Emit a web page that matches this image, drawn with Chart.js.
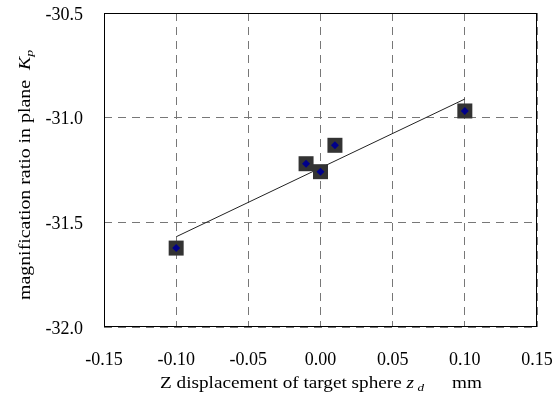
<!DOCTYPE html>
<html>
<head>
<meta charset="utf-8">
<script src="https://cdn.jsdelivr.net/npm/chart.js@4.4.1/dist/chart.umd.min.js"></script>
<style>
html,body{margin:0;padding:0;background:#fff;}
#wrap{width:560px;height:409px;position:relative;}
</style>
</head>
<body>
<div id="wrap"><canvas id="c" width="560" height="409"></canvas></div>
<script>
const displacement = [-0.10, -0.01, 0.00, 0.01, 0.10];
const magnification = [-31.623, -31.22, -31.258, -31.132, -30.968];
const trendX = [-0.10, 0.10];
const trendY = [-31.569, -30.911];
const xTicks = [-0.15, -0.10, -0.05, 0.00, 0.05, 0.10, 0.15];
const yTicks = [-32.0, -31.5, -31.0, -30.5];

const pts = displacement.map((x, i) => ({x: x, y: magnification[i]}));
const trend = trendX.map((x, i) => ({x: x, y: trendY[i]}));
const FONT = "'Liberation Serif', 'Times New Roman', serif";

const titlePlugin = {
  id: 'titles',
  afterDraw(chart) {
    const ctx = chart.ctx;
    ctx.save();
    ctx.fillStyle = '#000';
    ctx.textBaseline = 'alphabetic';
    // x title (fit "Z displacement ... z" into 160..414)
    ctx.font = "16px " + FONT;
    const t1 = 'Z displacement of target sphere ';
    const w1 = ctx.measureText(t1).width;
    ctx.font = "italic 16px " + FONT;
    const wz = ctx.measureText('z').width;
    const sx = (414 - 160) / (w1 + wz);
    ctx.save();
    ctx.translate(160, 388);
    ctx.scale(sx, 1);
    let x = 0;
    ctx.font = "16px " + FONT;
    ctx.fillText(t1, x, 0); x += w1;
    ctx.font = "italic 16px " + FONT;
    ctx.fillText('z', x, 0); x += wz + 3;
    ctx.font = "italic 11px " + FONT;
    ctx.fillText('d', x, 3);
    ctx.restore();
    ctx.save();
    ctx.translate(452, 388);
    ctx.scale(sx, 1);
    ctx.font = "16px " + FONT;
    ctx.fillText('mm', 0, 0);
    ctx.restore();
    // y title, fit into y 300..50
    ctx.font = "16px " + FONT;
    const t2 = 'magnification ratio in plane  ';
    const w2 = ctx.measureText(t2).width;
    ctx.font = "italic 16px " + FONT;
    const wk = ctx.measureText('K').width;
    ctx.font = "italic 11px " + FONT;
    const wp = ctx.measureText('p').width;
    const sy = (300 - 50) / (w2 + wk + wp);
    ctx.translate(30, 300);
    ctx.rotate(-Math.PI / 2);
    ctx.scale(sy, 1);
    x = 0;
    ctx.font = "16px " + FONT;
    ctx.fillText(t2, x, 0); x += w2;
    ctx.font = "italic 16px " + FONT;
    ctx.fillText('K', x, 0); x += wk;
    ctx.font = "italic 11px " + FONT;
    ctx.fillText('p', x, 3);
    ctx.restore();
  }
};

new Chart(document.getElementById('c'), {
  type: 'scatter',
  data: {
    datasets: [
      {
        data: trend, showLine: true, borderColor: '#222', borderWidth: 1,
        pointRadius: 0, order: 3
      },
      {
        data: pts, pointStyle: 'rect', pointRadius: 10.6, backgroundColor: '#333333',
        borderColor: '#333333', borderWidth: 0, order: 2
      },
      {
        data: pts, pointStyle: 'rectRot', pointRadius: 4, backgroundColor: '#00008b',
        borderColor: '#00008b', borderWidth: 0, order: 1
      }
    ]
  },
  options: {
    responsive: false,
    animation: false,
    layout: {padding: {top: 13, right: 23, left: 0, bottom: 0}},
    plugins: {legend: {display: false}, tooltip: {enabled: false}},
    scales: {
      x: {
        type: 'linear', min: -0.15, max: 0.15,
        afterBuildTicks(s) { s.ticks = xTicks.map(v => ({value: v})); },
        afterFit(s) { s.height = 82; s.paddingLeft = 0; s.paddingRight = 0; s.paddingTop = 0; s.paddingBottom = 0; },
        ticks: {
          color: '#000', font: {family: FONT, size: 18}, padding: 22,
          maxRotation: 0, callback: v => v.toFixed(2)
        },
        grid: {
          color: '#777', lineWidth: 1, drawTicks: false, tickLength: 0
        },
        border: {display: false, dash: [8, 6]}
      },
      y: {
        type: 'linear', min: -32, max: -30.5,
        afterBuildTicks(s) { s.ticks = yTicks.map(v => ({value: v})); },
        afterFit(s) { s.width = 104; s.paddingLeft = 0; s.paddingRight = 0; s.paddingTop = 0; s.paddingBottom = 0; },
        ticks: {
          color: '#000', font: {family: FONT, size: 18}, padding: 21, labelOffset: 2,
          callback: v => v.toFixed(1)
        },
        grid: {
          color: '#777', lineWidth: 1, drawTicks: false, tickLength: 0
        },
        border: {display: false, dash: [8, 6]}
      }
    }
  },
  plugins: [titlePlugin, {
    id: 'frame',
    beforeDatasetsDraw(chart) {
      const {ctx, chartArea: a} = chart;
      ctx.save();
      ctx.strokeStyle = '#000';
      ctx.lineWidth = 1;
      ctx.strokeRect(Math.round(a.left) + 0.5, Math.round(a.top) + 0.5,
        Math.round(a.right - a.left) - 1, Math.round(a.bottom - a.top) - 1);
      ctx.restore();
    }
  }]
});
</script>
</body>
</html>
